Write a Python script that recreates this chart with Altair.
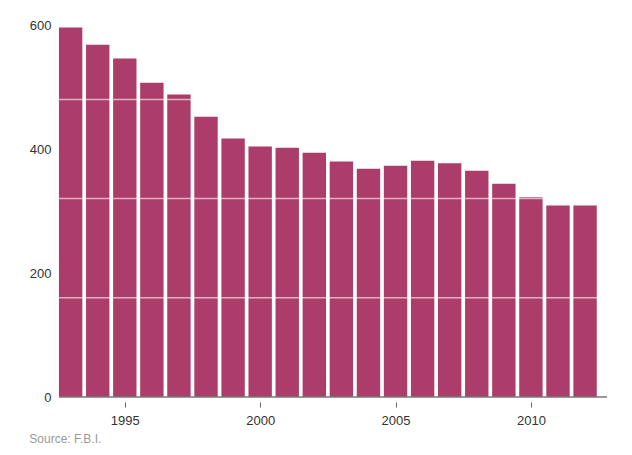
import altair as alt
import pandas as pd

years = list(range(1993, 2013))
values = [596, 568, 546, 507, 488, 452, 417, 404, 402, 394,
          380, 368, 373, 381, 377, 365, 344, 322, 309, 309]
grid_values = [160, 320, 480]
y_ticks = [0, 200, 400, 600]
x_ticks = [1995, 2000, 2005, 2010]

df = pd.DataFrame({"year": years, "value": values})
grid_df = pd.DataFrame({"g": grid_values})

W, H = 548, 372
xscale = alt.Scale(domain=[1992.57, 2012.81], nice=False, zero=False)
yscale = alt.Scale(domain=[0, 600], nice=False)

bars = alt.Chart(df).transform_calculate(
    x0="datum.year - 0.432", x1="datum.year + 0.432"
).mark_bar(color="#AC3D6A", opacity=1, orient="vertical").encode(
    x=alt.X("x0:Q", scale=xscale,
            axis=alt.Axis(values=x_ticks, format="d", title=None, domain=False,
                          grid=False, offset=5, tickSize=5, tickColor="#666",
                          tickWidth=1, labelPadding=7, labelFontSize=13,
                          labelColor="#333", labelFont="Liberation Sans")),
    x2="x1:Q",
    y=alt.Y("value:Q", scale=yscale,
            axis=alt.Axis(values=y_ticks, title=None, domain=False, ticks=False,
                          grid=False, labelPadding=8, labelFontSize=13,
                          labelColor="#333", labelFont="Liberation Sans")),
    y2=alt.datum(0),
)

grid = alt.Chart(grid_df).mark_rule(color="white", opacity=0.6, strokeWidth=1.5).encode(
    y=alt.Y("g:Q", scale=yscale),
    x=alt.value(0), x2=alt.value(W),
)

baseline = alt.Chart(pd.DataFrame({"z": [0]})).mark_rule(color="#777", strokeWidth=1.5).encode(
    y=alt.Y("z:Q", scale=yscale),
    x=alt.value(0), x2=alt.value(W),
)

chart = alt.layer(bars, grid, baseline).properties(
    width=W, height=H,
    autosize=alt.AutoSizeParams(type="none"),
    padding={"left": 51, "top": 17, "right": 10, "bottom": 60},
    title=alt.TitleParams("Source: F.B.I.", orient="bottom", anchor="start",
                          frame="bounds", fontSize=12, fontWeight="normal",
                          color="#999", font="Liberation Sans", offset=7),
).configure_view(stroke=None).configure_scale(continuousPadding=0)

chart.save("out.html", embed_options={"renderer": "svg", "actions": False})
